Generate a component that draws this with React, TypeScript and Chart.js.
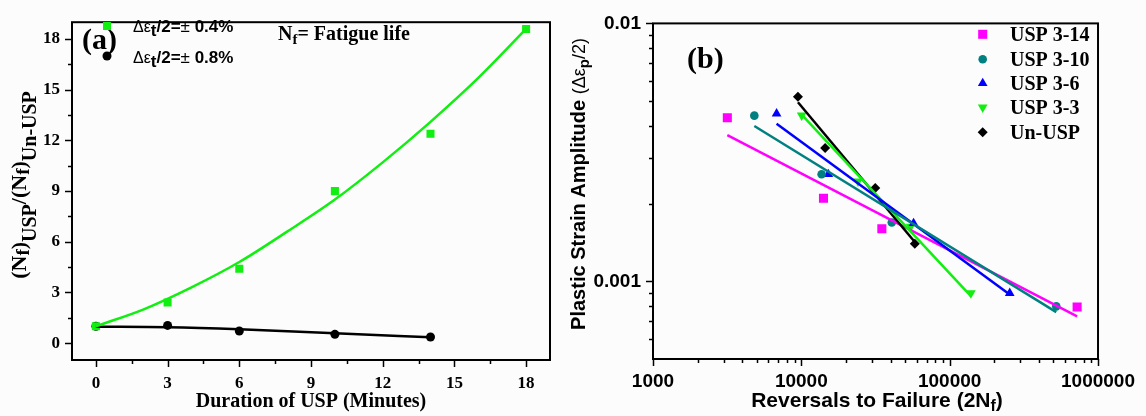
import React, { useEffect, useRef } from 'react';
import { Chart, registerables } from 'chart.js';

Chart.register(...registerables);

// ---------- Panel (a): fatigue-life ratio vs. USP duration ----------
const minutesLow = [0, 3, 6, 10, 14, 18];
const ratioLow = [1.0, 2.4, 4.4, 9.0, 12.4, 18.6]; // Δεt/2 = ±0.4%
const minutesHigh = [0, 3, 6, 10, 14];
const ratioHigh = [1.0, 1.05, 0.72, 0.52, 0.36]; // Δεt/2 = ±0.8%
const fitLowX = [0, 2, 4, 6, 8, 10, 12, 14, 16, 18];
const fitLowY = [1.0, 2.0, 3.3, 4.8, 6.6, 8.5, 10.7, 13.1, 15.7, 18.6];
const fitHighX = [0, 3, 6, 10, 14];
const fitHighY = [0.97, 0.94, 0.82, 0.58, 0.35];
const majorTicksA = [0, 3, 6, 9, 12, 15, 18];
const minorTicksA = [1.5, 4.5, 7.5, 10.5, 13.5, 16.5];

// ---------- Panel (b): Coffin-Manson plot ----------
const seriesNames = ['USP 3-14', 'USP 3-10', 'USP 3-6', 'USP 3-3', 'Un-USP'];
const rev314 = [3170, 14100, 34900, 723000];
const amp314 = [0.00431, 0.0021, 0.0016, 0.000796];
const rev310 = [4820, 13700, 40700, 523000];
const amp310 = [0.00439, 0.0026, 0.00169, 0.0008];
const rev36 = [6810, 15200, 57100, 254000];
const amp36 = [0.00447, 0.0026, 0.00168, 0.0009];
const rev33 = [10050, 24100, 54500, 139000];
const amp33 = [0.0044, 0.00244, 0.00163, 0.0009];
const revUn = [9490, 14460, 31500, 58200];
const ampUn = [0.0052, 0.00329, 0.0023, 0.0014];
// end points of the fitted lines
const fit314X = [3170, 723000];
const fit314Y = [0.00369, 0.000731];
const fit310X = [4820, 523000];
const fit310Y = [0.004, 0.00076];
const fit36X = [6810, 254000];
const fit36Y = [0.00408, 0.00089];
const fit33X = [10050, 139000];
const fit33Y = [0.00443, 0.000877];
const fitUnX = [9490, 58200];
const fitUnY = [0.00495, 0.00142];
const majorTicksBX = [1000, 10000, 100000, 1000000];
const minorTicksBX = [2000, 3000, 4000, 5000, 6000, 7000, 8000, 9000, 20000, 30000, 40000, 50000, 60000, 70000, 80000, 90000, 200000, 300000, 400000, 500000, 600000, 700000, 800000, 900000];
const majorTicksBY = [0.001, 0.01];
const minorTicksBY = [0.0006, 0.0007, 0.0008, 0.0009, 0.002, 0.003, 0.004, 0.005, 0.006, 0.007, 0.008, 0.009];

const SERIF = "'Liberation Serif', 'Times New Roman', serif";
const SANS = "'Liberation Sans', Arial, sans-serif";
const GREEN = '#11ee11';
const MAGENTA = '#ff00ff';
const TEAL = '#008080';
const BLUE = '#0000ff';

const zip = (xs: number[], ys: number[]) => xs.map((x, i) => ({ x, y: ys[i] }));

type Seg = { t: string; font: string; dy?: number };

function drawRich(ctx: CanvasRenderingContext2D, segs: Seg[], x: number, y: number, center: boolean, rotate = false) {
  ctx.save();
  ctx.translate(x, y);
  if (rotate) ctx.rotate(-Math.PI / 2);
  ctx.textAlign = 'left';
  ctx.textBaseline = 'alphabetic';
  ctx.fillStyle = '#000';
  let w = 0;
  for (const s of segs) {
    ctx.font = s.font;
    w += ctx.measureText(s.t).width;
  }
  let cx = center ? -w / 2 : 0;
  for (const s of segs) {
    ctx.font = s.font;
    ctx.fillText(s.t, cx, s.dy || 0);
    cx += ctx.measureText(s.t).width;
  }
  ctx.restore();
}

function drawMarker(ctx: CanvasRenderingContext2D, style: string, x: number, y: number, r: number, color: string, rotation = 0) {
  ctx.save();
  ctx.fillStyle = color;
  ctx.beginPath();
  if (style === 'rect') {
    const s = r * Math.SQRT1_2;
    ctx.rect(x - s, y - s, 2 * s, 2 * s);
  } else if (style === 'circle') {
    ctx.arc(x, y, r, 0, Math.PI * 2);
  } else if (style === 'triangle') {
    let a = (rotation * Math.PI) / 180;
    ctx.moveTo(x + Math.sin(a) * r, y - Math.cos(a) * r);
    a += (2 * Math.PI) / 3;
    ctx.lineTo(x + Math.sin(a) * r, y - Math.cos(a) * r);
    a += (2 * Math.PI) / 3;
    ctx.lineTo(x + Math.sin(a) * r, y - Math.cos(a) * r);
    ctx.closePath();
  } else if (style === 'rectRot') {
    ctx.moveTo(x, y - r);
    ctx.lineTo(x + r, y);
    ctx.lineTo(x, y + r);
    ctx.lineTo(x - r, y);
    ctx.closePath();
  }
  ctx.fill();
  ctx.restore();
}

function drawFrameAndTicks(chart: any, xMaj: number[], xMin: number[], yMaj: number[], yMin: number[]) {
  const ctx: CanvasRenderingContext2D = chart.ctx;
  const { left, right, top, bottom } = chart.chartArea;
  const xs = chart.scales.x;
  const ys = chart.scales.y;
  ctx.save();
  ctx.strokeStyle = '#000';
  ctx.lineWidth = 1.5;
  ctx.beginPath();
  for (const v of xMaj) {
    const p = Math.round(xs.getPixelForValue(v)) + 0.5;
    ctx.moveTo(p, bottom);
    ctx.lineTo(p, bottom + 7);
  }
  for (const v of xMin) {
    const p = Math.round(xs.getPixelForValue(v)) + 0.5;
    ctx.moveTo(p, bottom);
    ctx.lineTo(p, bottom + 4);
  }
  for (const v of yMaj) {
    const p = Math.round(ys.getPixelForValue(v)) + 0.5;
    ctx.moveTo(left, p);
    ctx.lineTo(left - 7, p);
  }
  for (const v of yMin) {
    const p = Math.round(ys.getPixelForValue(v)) + 0.5;
    ctx.moveTo(left, p);
    ctx.lineTo(left - 4, p);
  }
  ctx.stroke();
  ctx.lineWidth = 2;
  ctx.strokeRect(left, top, right - left, bottom - top);
  ctx.restore();
}

function makeChartA(canvas: HTMLCanvasElement) {
  const decor = {
    id: 'decorA',
    afterDraw(chart: any) {
      const ctx: CanvasRenderingContext2D = chart.ctx;
      drawFrameAndTicks(chart, majorTicksA, minorTicksA, majorTicksA, minorTicksA);
      // panel letter
      drawRich(ctx, [{ t: '(a)', font: `bold 30px ${SERIF}` }], 82, 49, false);
      // legend
      drawMarker(ctx, 'rect', 107, 26, 5.7, GREEN);
      drawMarker(ctx, 'circle', 107, 56, 4.5, '#000');
      const leg = (pct: string): Seg[] => [
        { t: 'Δε', font: `16px ${SANS}` },
        { t: 't', font: `bold 17px ${SANS}`, dy: 4 },
        { t: '/2=', font: `bold 17px ${SANS}` },
        { t: '±', font: `17px ${SANS}` },
        { t: ' ' + pct, font: `bold 17px ${SANS}` },
      ];
      drawRich(ctx, leg('0.4%'), 133, 32, false);
      drawRich(ctx, leg('0.8%'), 133, 63, false);
      // note
      drawRich(
        ctx,
        [
          { t: 'N', font: `bold 20px ${SERIF}` },
          { t: 'f', font: `bold 15px ${SERIF}`, dy: 4 },
          { t: '= Fatigue life', font: `bold 20px ${SERIF}` },
        ],
        278,
        40,
        false
      );
      // axis titles
      drawRich(ctx, [{ t: 'Duration of USP (Minutes)', font: `bold 20px ${SERIF}` }], 311, 407, true);
      drawRich(
        ctx,
        [
          { t: '(N', font: `bold 22px ${SERIF}` },
          { t: 'f', font: `bold 19px ${SERIF}`, dy: 3 },
          { t: ')', font: `bold 22px ${SERIF}` },
          { t: 'USP', font: `bold 20px ${SERIF}`, dy: 10 },
          { t: '/(N', font: `bold 22px ${SERIF}` },
          { t: 'f', font: `bold 19px ${SERIF}`, dy: 3 },
          { t: ')', font: `bold 22px ${SERIF}` },
          { t: 'Un-USP', font: `bold 20px ${SERIF}`, dy: 10 },
        ],
        26,
        185,
        true,
        true
      );
    },
  };
  const tickFont = { family: SERIF, size: 17, weight: 'bold' as const };
  return new Chart(canvas, {
    type: 'scatter',
    data: {
      datasets: [
        {
          data: zip(fitLowX, fitLowY),
          showLine: true,
          pointRadius: 0,
          borderColor: GREEN,
          borderWidth: 2.5,
          cubicInterpolationMode: 'monotone',
        },
        {
          data: zip(fitHighX, fitHighY),
          showLine: true,
          pointRadius: 0,
          borderColor: '#000',
          borderWidth: 2.5,
          cubicInterpolationMode: 'monotone',
        },
        {
          data: zip(minutesLow, ratioLow),
          pointStyle: 'rect',
          pointRadius: 5.7,
          backgroundColor: GREEN,
          borderWidth: 0,
        },
        {
          data: zip(minutesHigh, ratioHigh),
          pointStyle: 'circle',
          pointRadius: 4.5,
          backgroundColor: '#000',
          borderWidth: 0,
        },
      ],
    } as any,
    options: {
      responsive: false,
      animation: false,
      layout: { padding: { top: 8, right: 15, left: 0, bottom: 0 } },
      plugins: { legend: { display: false }, tooltip: { enabled: false } },
      scales: {
        x: {
          type: 'linear',
          min: -1,
          max: 19,
          grid: { display: false, drawTicks: false },
          border: { display: false },
          afterBuildTicks: (s: any) => {
            s.ticks = majorTicksA.map((value) => ({ value }));
          },
          afterFit: (s: any) => {
            s.height = 56;
          },
          ticks: { autoSkip: false, maxRotation: 0, padding: 13, color: '#000', font: tickFont, callback: (v: any) => String(v) },
        },
        y: {
          type: 'linear',
          min: -1,
          max: 19,
          grid: { display: false, drawTicks: false },
          border: { display: false },
          afterBuildTicks: (s: any) => {
            s.ticks = majorTicksA.map((value) => ({ value }));
          },
          afterFit: (s: any) => {
            s.width = 72;
          },
          ticks: { autoSkip: false, padding: 12, color: '#000', font: tickFont, callback: (v: any) => String(v) },
        },
      },
    } as any,
    plugins: [decor],
  });
}

function makeChartB(canvas: HTMLCanvasElement) {
  const markerDefs = [
    { style: 'rect', r: 6.4, color: MAGENTA, rot: 0 },
    { style: 'circle', r: 4.3, color: TEAL, rot: 0 },
    { style: 'triangle', r: 5.6, color: BLUE, rot: 0 },
    { style: 'triangle', r: 5.6, color: GREEN, rot: 180 },
    { style: 'rectRot', r: 5, color: '#000', rot: 0 },
  ];
  const decor = {
    id: 'decorB',
    afterDraw(chart: any) {
      const ctx: CanvasRenderingContext2D = chart.ctx;
      drawFrameAndTicks(chart, majorTicksBX, minorTicksBX, majorTicksBY, minorTicksBY);
      drawRich(ctx, [{ t: '(b)', font: `bold 30px ${SERIF}` }], 122, 68, false);
      // legend
      const rows = [34.3, 59.3, 83.3, 107.3, 132.3];
      seriesNames.forEach((name, i) => {
        const m = markerDefs[i];
        drawMarker(ctx, m.style, 417.7, rows[i], m.r, m.color, m.rot);
        drawRich(ctx, [{ t: name, font: `bold 20px ${SERIF}` }], 445, rows[i] + 7, false);
      });
      // axis titles
      drawRich(
        ctx,
        [
          { t: 'Reversals to Failure (2N', font: `bold 21px ${SANS}` },
          { t: 'f', font: `bold 16px ${SANS}`, dy: 4 },
          { t: ')', font: `bold 21px ${SANS}` },
        ],
        312,
        407,
        true
      );
      drawRich(
        ctx,
        [
          { t: 'Plastic Strain Amplitude ', font: `bold 20px ${SANS}` },
          { t: '(Δε', font: `18px ${SANS}` },
          { t: 'p', font: `bold 15px ${SANS}`, dy: 4 },
          { t: '/2)', font: `18px ${SANS}` },
        ],
        20,
        184,
        true,
        true
      );
    },
  };
  const line = (xs: number[], ys: number[], color: string) => ({
    data: zip(xs, ys),
    showLine: true,
    pointRadius: 0,
    borderColor: color,
    borderWidth: 2.5,
  });
  const pts = (xs: number[], ys: number[], i: number) => {
    const m = markerDefs[i];
    return {
      data: zip(xs, ys),
      pointStyle: m.style,
      pointRadius: m.r,
      rotation: m.rot,
      backgroundColor: m.color,
      borderWidth: 0,
    };
  };
  const tickFont = { family: SANS, size: 19, weight: 'bold' as const };
  return new Chart(canvas, {
    type: 'scatter',
    data: {
      datasets: [
        line(fit310X, fit310Y, TEAL),
        line(fit36X, fit36Y, BLUE),
        line(fit33X, fit33Y, GREEN),
        line(fitUnX, fitUnY, '#000'),
        line(fit314X, fit314Y, MAGENTA),
        pts(rev314, amp314, 0),
        pts(rev310, amp310, 1),
        pts(rev36, amp36, 2),
        pts(rev33, amp33, 3),
        pts(revUn, ampUn, 4),
      ],
    } as any,
    options: {
      responsive: false,
      animation: false,
      layout: { padding: { top: 17, right: 44, left: 0, bottom: 0 } },
      plugins: { legend: { display: false }, tooltip: { enabled: false } },
      scales: {
        x: {
          type: 'logarithmic',
          min: 1000,
          max: 1000000,
          grid: { display: false, drawTicks: false },
          border: { display: false },
          afterBuildTicks: (s: any) => {
            s.ticks = majorTicksBX.map((value) => ({ value }));
          },
          afterFit: (s: any) => {
            s.height = 57;
          },
          ticks: { autoSkip: false, maxRotation: 0, padding: 11, color: '#000', font: tickFont, callback: (v: any) => String(v) },
        },
        y: {
          type: 'logarithmic',
          min: 0.0005,
          max: 0.01,
          grid: { display: false, drawTicks: false },
          border: { display: false },
          afterBuildTicks: (s: any) => {
            s.ticks = majorTicksBY.map((value) => ({ value }));
          },
          afterFit: (s: any) => {
            s.width = 88;
          },
          ticks: { autoSkip: false, padding: 12, color: '#000', font: tickFont, callback: (v: any) => String(v) },
        },
      },
    } as any,
    plugins: [decor],
  });
}

export default function App() {
  const refA = useRef<HTMLCanvasElement>(null);
  const refB = useRef<HTMLCanvasElement>(null);
  useEffect(() => {
    const a = makeChartA(refA.current!);
    const b = makeChartB(refB.current!);
    return () => {
      a.destroy();
      b.destroy();
    };
  }, []);
  return (
    <div style={{ position: 'fixed', left: 0, top: 0, width: 1146, height: 416, background: '#fcfcfc' }}>
      <canvas ref={refA} width={565} height={416} style={{ position: 'absolute', left: 0, top: 0 }} />
      <canvas ref={refB} width={581} height={416} style={{ position: 'absolute', left: 565, top: 0 }} />
    </div>
  );
}
